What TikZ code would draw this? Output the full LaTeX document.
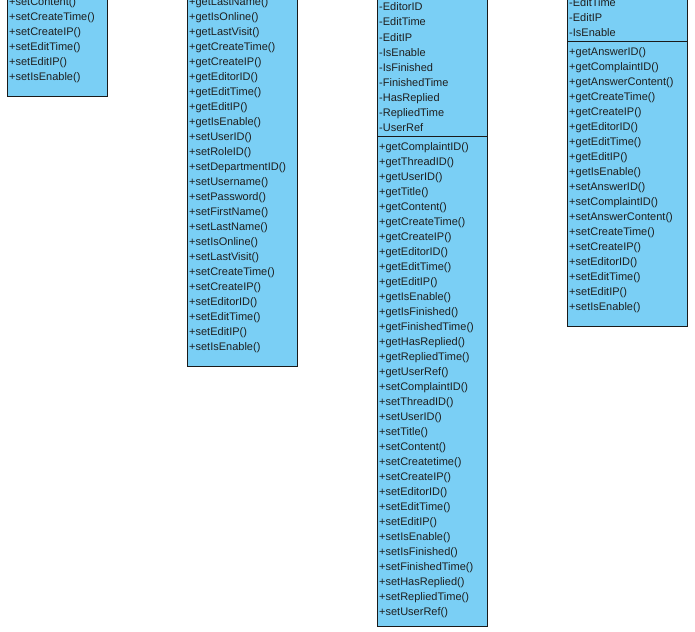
\documentclass[tikz,border=0pt]{standalone}
\usepackage{fontspec}
\setmainfont{Liberation Sans}
\definecolor{classfill}{HTML}{7ACFF5}
\definecolor{edge}{HTML}{1A1A1A}
\begin{document}
\begin{tikzpicture}[x=1pt,y=-1pt,
  classbox/.style={draw=edge, fill=classfill, line width=0.9pt, inner sep=0pt},
  member/.style={anchor=west, inner sep=0pt, font=\fontsize{11}{13}\selectfont, text=black!88, text height=8pt, text depth=2.5pt},
  divider/.style={draw=edge, line width=0.9pt}]
\useasboundingbox (0,0) rectangle (695,631);
\clip (0,0) rectangle (695,631);
\fill[white] (0,0) rectangle (695,631);
% class boxes (tops lie above the visible area)
\node[classbox, anchor=south west, minimum width=100pt, minimum height=140pt] (c1) at (7,97) {};
\node[classbox, anchor=south west, minimum width=110pt, minimum height=410pt] (c2) at (187,367) {};
\node[classbox, anchor=south west, minimum width=110pt, minimum height=700pt] (c3) at (377,627) {};
\node[classbox, anchor=south west, minimum width=120pt, minimum height=400pt] (c4) at (567,327) {};
% dividers
\coordinate (d3) at (0,136);
\draw[divider] (c3.west |- d3) -- (c3.east |- d3);
\coordinate (d4) at (0,41);
\draw[divider] (c4.west |- d4) -- (c4.east |- d4);
% box 1 members
\foreach \t [count=\i] in {+setContent(),+setCreateTime(),+setCreateIP(),+setEditTime(),+setEditIP(),+setIsEnable()}
  \node[member] (a\i) at (9,-12+15*\i) {\t};
% box 2 members
\foreach \t [count=\i] in {+getLastName(),+getIsOnline(),+getLastVisit(),+getCreateTime(),+getCreateIP(),+getEditorID(),+getEditTime(),+getEditIP(),+getIsEnable(),+setUserID(),+setRoleID(),+setDepartmentID(),+setUsername(),+setPassword(),+setFirstName(),+setLastName(),+setIsOnline(),+setLastVisit(),+setCreateTime(),+setCreateIP(),+setEditorID(),+setEditTime(),+setEditIP(),+setIsEnable()}
  \node[member] (b\i) at (189,-12+15*\i) {\t};
% box 3 attributes
\foreach \t [count=\i] in {-EditorID,-EditTime,-EditIP,-IsEnable,-IsFinished,-FinishedTime,-HasReplied,-RepliedTime,-UserRef}
  \node[member] (cf\i) at (379,-7+15.1*\i) {\t};
% box 3 methods
\foreach \t [count=\i] in {+getComplaintID(),+getThreadID(),+getUserID(),+getTitle(),+getContent(),+getCreateTime(),+getCreateIP(),+getEditorID(),+getEditTime(),+getEditIP(),+getIsEnable(),+getIsFinished(),+getFinishedTime(),+getHasReplied(),+getRepliedTime(),+getUserRef(),+setComplaintID(),+setThreadID(),+setUserID(),+setTitle(),+setContent(),+setCreatetime(),+setCreateIP(),+setEditorID(),+setEditTime(),+setEditIP(),+setIsEnable(),+setIsFinished(),+setFinishedTime(),+setHasReplied(),+setRepliedTime(),+setUserRef()}
  \node[member] (cm\i) at (379,133+15*\i) {\t};
% box 4 attributes
\foreach \t [count=\i] in {-EditTime,-EditIP,-IsEnable}
  \node[member] (df\i) at (569,-11+15*\i) {\t};
% box 4 methods
\foreach \t [count=\i] in {+getAnswerID(),+getComplaintID(),+getAnswerContent(),+getCreateTime(),+getCreateIP(),+getEditorID(),+getEditTime(),+getEditIP(),+getIsEnable(),+setAnswerID(),+setComplaintID(),+setAnswerContent(),+setCreateTime(),+setCreateIP(),+setEditorID(),+setEditTime(),+setEditIP(),+setIsEnable()}
  \node[member] (dm\i) at (569,38+15*\i) {\t};
\end{tikzpicture}
\end{document}
